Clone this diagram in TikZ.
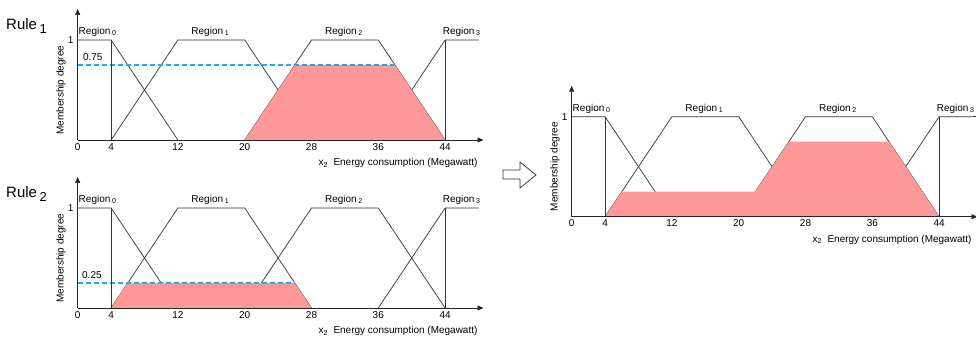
\documentclass[tikz,border=0pt]{standalone}
\usepackage{fontspec}
\setmainfont{Liberation Sans}
\usetikzlibrary{arrows.meta}

\definecolor{clipred}{RGB}{255,153,153}
\definecolor{cutblue}{RGB}{40,170,240}
\newcommand{\lowsub}[1]{\,\raisebox{-1.5pt}{\fontsize{7}{7}\selectfont #1}}
\newcommand{\tightsub}[1]{\raisebox{-1.5pt}{\fontsize{7}{7}\selectfont #1}}

\begin{document}
\begin{tikzpicture}[
  x=1pt, y=1pt,
  mfline/.style={draw=black!80, line width=0.7pt},
  axisline/.style={draw=black!85, line width=0.7pt, -{Triangle[length=6pt,width=5pt]}},
  cutline/.style={draw=cutblue, line width=1.5pt, dash pattern=on 5pt off 3pt},
  clipfill/.style={fill=clipred},
  lbl/.style={inner sep=0pt, font=\fontsize{10}{12}\selectfont},
  rulelbl/.style={inner sep=0pt, font=\fontsize{15}{18}\selectfont},
  mflines/.pic={
    \draw[mfline] (0,1) -- (4,1) -- (12,0);
    \draw[mfline] (4,0) -- (12,1) -- (20,1) -- (28,0);
    \draw[mfline] (20,0) -- (28,1) -- (36,1) -- (44,0);
    \draw[mfline] (36,0) -- (44,1) -- (48,1);
  },
  mfaxes/.pic={
    \draw[mfline] (4,0) -- (4,1) (44,0) -- (44,1);
    \draw[axisline] (0,0) -- (0,1.31);
    \draw[axisline] (0,0) -- (48.6,0);
    \node[lbl, anchor=east, xshift=-4pt] (-one) at (0,1) {1};
    \foreach \t in {0,4,12,20,28,36,44}
      \node[lbl, anchor=north, yshift=-3pt] (-t\t) at (\t,0) {\t};
    \node[lbl, rotate=90] (-ylab) at (-2,0.5) {Membership degree};
    \node[lbl, anchor=east] (-xlab) at (47.9,-0.23) {x\tightsub{2}\hspace{6pt}Energy consumption (Megawatt)};
    \node[lbl, anchor=base west] (-r0) at (0.1,1.055) {Region\lowsub{0}};
    \node[lbl, anchor=base west] (-r1) at (13.6,1.055) {Region\lowsub{1}};
    \node[lbl, anchor=base west] (-r2) at (29.6,1.055) {Region\lowsub{2}};
    \node[lbl, anchor=base west] (-r3) at (43.7,1.055) {Region\lowsub{3}};
  }
]
\useasboundingbox (0,0) rectangle (976,339);

% rule 1: cut of Region 2 at 0.75
\node[rulelbl, anchor=base west] (rule1) at (6,309.5) {Rule\,\raisebox{-4pt}{\fontsize{13}{13}\selectfont 1}};
\begin{scope}[shift={(77.7,199)}, x=8.35pt, y=100pt]
  \pic (top) {mflines};
  \fill[clipfill] (20,0) -- (26,0.75) -- (38,0.75) -- (44,0) -- cycle;
  \draw[cutline] (0,0.75) -- (38,0.75);
  \node[lbl, anchor=south] (top-lev) at (1.8,0.79) {0.75};
  \pic (top) {mfaxes};
\end{scope}

% rule 2: cut of Region 1 at 0.25
\node[rulelbl, anchor=base west] (rule2) at (6,141) {Rule\,\raisebox{-4pt}{\fontsize{13}{13}\selectfont 2}};
\begin{scope}[shift={(77.7,31)}, x=8.35pt, y=100pt]
  \pic (bot) {mflines};
  \fill[clipfill] (4,0) -- (6,0.25) -- (26,0.25) -- (28,0) -- cycle;
  \draw[cutline] (0,0.25) -- (26,0.25);
  \node[lbl, anchor=south] (bot-lev) at (1.7,0.29) {0.25};
  \pic (bot) {mfaxes};
\end{scope}

% aggregation arrow
\draw[mfline, fill=white] (503,169) -- (520,169) -- (520,177) -- (536,164)
  -- (520,151) -- (520,160) -- (503,160) -- cycle;

% aggregated output
\begin{scope}[shift={(571.7,122.3)}, x=8.35pt, y=100pt]
  \pic (agg) {mflines};
  \fill[clipfill] (4,0) -- (6,0.25) -- (22,0.25) -- (26,0.75) -- (38,0.75) -- (44,0) -- cycle;
  \pic (agg) {mfaxes};
  \draw[mfline] (48,1) -- (48.6,1);
\end{scope}
\end{tikzpicture}
\end{document}
